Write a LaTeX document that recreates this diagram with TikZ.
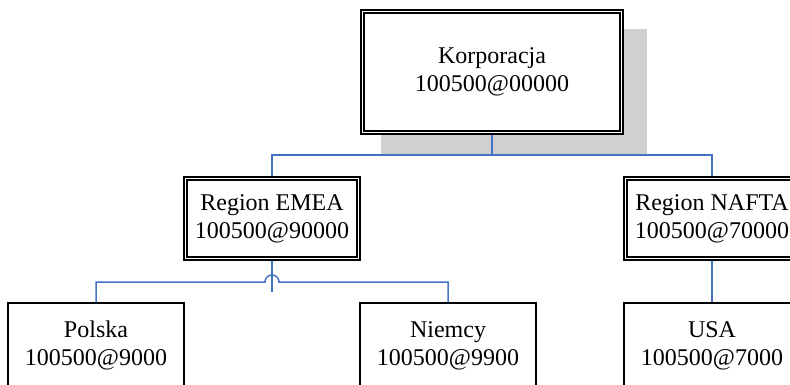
\documentclass[tikz,border=0pt]{standalone}
\usepackage{fontspec}
\setmainfont{Liberation Serif}
\begin{document}
\begin{tikzpicture}[x=1pt,y=-1pt,
  txt/.style={font=\fontsize{24pt}{28pt}\selectfont, align=center, inner sep=0pt},
  dblbox/.style={txt, rectangle, draw=black, line width=2.4pt, fill=white},
  sglbox/.style={txt, rectangle, draw=black, line width=1.5pt, fill=white, minimum width=176, minimum height=85},
  innerframe/.style={draw=black, line width=1.3pt},
]
\definecolor{connblue}{HTML}{4472C4}
\definecolor{shadowgray}{HTML}{D0D0D0}
\tikzset{conn/.style={draw=connblue, line width=1.5pt}}
\useasboundingbox (0,0) rectangle (790,384);
\clip (0,0) rectangle (790,384);
% shadow
\fill[shadowgray] (381,29) rectangle (647,155);
% nodes
\node[dblbox, minimum width=262, minimum height=124] (k) at (492,72) {Korporacja\\100500@00000};
\node[dblbox, minimum width=176, minimum height=83] (emea) at (272,218.5) {Region EMEA\\100500@90000};
\node[dblbox, minimum width=176, minimum height=83] (nafta) at (712,218.5) {Region NAFTA\\100500@70000};
\node[sglbox] (pol) at (96,345.5) {Polska\\100500@9000};
\node[sglbox] (nie) at (448,345.5) {Niemcy\\100500@9900};
\node[sglbox] (usa) at (712,345.5) {USA\\100500@7000};
% inner frames
\foreach \n in {k,emea,nafta}{
  \draw[innerframe] ([shift={(4.2,4.2)}]\n.north west) rectangle ([shift={(-4.2,-4.2)}]\n.south east);
}
% connectors
\coordinate (bus) at (492,155);
\draw[conn] (k.south) -- (bus);
\draw[conn] (bus) -| (emea.north);
\draw[conn] (bus) -| (nafta.north);
\coordinate (etail) at (272,292);
\draw[conn] (emea.south) -- (etail);
\draw[conn] (pol.north) |- (265,282) arc[start angle=180, end angle=0, radius=7pt] -| (nie.north);
\draw[conn] (nafta.south) -- (usa.north);
\end{tikzpicture}
\end{document}
